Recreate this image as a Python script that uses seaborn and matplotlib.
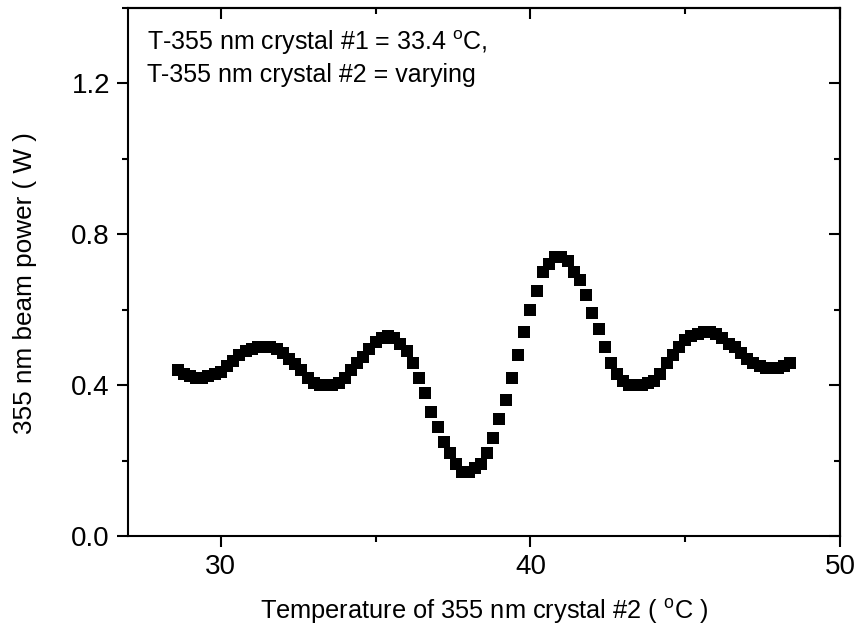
import matplotlib
matplotlib.use("Agg")
import matplotlib.pyplot as plt
from matplotlib.ticker import MultipleLocator
import seaborn as sns
import pandas as pd

temperature = [28.6, 28.8, 29.0, 29.2, 29.4, 29.6, 29.8, 30.0, 30.2, 30.4,
               30.6, 30.8, 31.0, 31.2, 31.4, 31.6, 31.8, 32.0, 32.2, 32.4,
               32.6, 32.8, 33.0, 33.2, 33.4, 33.6, 33.8, 34.0, 34.2, 34.4,
               34.6, 34.8, 35.0, 35.2, 35.4, 35.6, 35.8, 36.0, 36.2, 36.4,
               36.6, 36.8, 37.0, 37.2, 37.4, 37.6, 37.8, 38.0, 38.2, 38.4,
               38.6, 38.8, 39.0, 39.2, 39.4, 39.6, 39.8, 40.0, 40.2, 40.4,
               40.6, 40.8, 41.0, 41.2, 41.4, 41.6, 41.8, 42.0, 42.2, 42.4,
               42.6, 42.8, 43.0, 43.2, 43.4, 43.6, 43.8, 44.0, 44.2, 44.4,
               44.6, 44.8, 45.0, 45.2, 45.4, 45.6, 45.8, 46.0, 46.2, 46.4,
               46.6, 46.8, 47.0, 47.2, 47.4, 47.6, 47.8, 48.0, 48.2, 48.4]

power = [0.44, 0.43, 0.425, 0.42, 0.42, 0.425, 0.43, 0.435, 0.45, 0.465,
         0.48, 0.49, 0.495, 0.50, 0.50, 0.50, 0.495, 0.485, 0.47, 0.455,
         0.44, 0.42, 0.405, 0.40, 0.40, 0.40, 0.405, 0.42, 0.44, 0.46,
         0.475, 0.495, 0.515, 0.525, 0.53, 0.525, 0.51, 0.49, 0.46, 0.42,
         0.38, 0.33, 0.29, 0.25, 0.22, 0.19, 0.17, 0.17, 0.18, 0.19,
         0.22, 0.26, 0.31, 0.36, 0.42, 0.48, 0.54, 0.60, 0.65, 0.70,
         0.72, 0.74, 0.74, 0.73, 0.70, 0.68, 0.64, 0.59, 0.55, 0.50,
         0.46, 0.43, 0.41, 0.40, 0.40, 0.40, 0.405, 0.41, 0.43, 0.46,
         0.48, 0.50, 0.52, 0.53, 0.535, 0.54, 0.54, 0.535, 0.525, 0.51,
         0.50, 0.485, 0.47, 0.46, 0.45, 0.445, 0.445, 0.445, 0.45, 0.46]

x_ticks = [30, 40, 50]
y_ticks = [0.0, 0.4, 0.8, 1.2]
x_label = "Temperature of 355 nm crystal #2 ( $^{\\mathrm{o}}$C )"
y_label = "355 nm beam power ( W )"
note_line1 = "T-355 nm crystal #1 = 33.4 $^{\\mathrm{o}}$C,"
note_line2 = "T-355 nm crystal #2 = varying"

sns.set_style("white")
plt.rcParams["font.family"] = ["Liberation Sans", "DejaVu Sans"]
plt.rcParams["mathtext.fontset"] = "custom"
plt.rcParams["mathtext.rm"] = "Liberation Sans"
plt.rcParams["mathtext.it"] = "Liberation Sans:italic"
plt.rcParams["text.color"] = "black"
plt.rcParams["axes.labelcolor"] = "black"
plt.rcParams["xtick.color"] = "black"
plt.rcParams["ytick.color"] = "black"

df = pd.DataFrame({"T": temperature, "P": power})

fig = plt.figure(figsize=(8.58, 6.36), dpi=100)
ax = fig.add_axes([128 / 858, 100 / 636, 712 / 858, 528 / 636])

sns.scatterplot(data=df, x="T", y="P", marker="s", s=64, color="black",
                linewidth=0, ax=ax, legend=False)

ax.set_xlim(27, 50)
ax.set_ylim(0, 1.4)
ax.set_xticks(x_ticks)
ax.set_yticks(y_ticks)
ax.set_xticklabels([str(v) for v in x_ticks])
ax.set_yticklabels([f"{v:.1f}" for v in y_ticks])
ax.xaxis.set_minor_locator(MultipleLocator(5))
ax.yaxis.set_minor_locator(MultipleLocator(0.2))

for s in ax.spines.values():
    s.set_visible(True)
    s.set_linewidth(1.5)
    s.set_color("black")

ax.tick_params(axis="both", which="major", direction="out", length=8,
               width=1.5, labelsize=20, pad=5, colors="black",
               bottom=True, left=True, top=False, right=False)
ax.tick_params(axis="both", which="minor", direction="out", length=4.5,
               width=1.5, colors="black",
               bottom=True, left=True, top=False, right=False)

# inward ticks on top and right
axt = ax.secondary_xaxis("top")
axt.set_xticks(x_ticks)
axt.xaxis.set_minor_locator(MultipleLocator(5))
axt.tick_params(which="major", direction="in", length=8, width=1.5,
                labeltop=False, top=True, colors="black")
axt.tick_params(which="minor", direction="in", length=4.5, width=1.5,
                top=True, colors="black")
axt.set_xticklabels([])
axr = ax.secondary_yaxis("right")
axr.set_yticks(y_ticks)
axr.yaxis.set_minor_locator(MultipleLocator(0.2))
axr.tick_params(which="major", direction="in", length=8, width=1.5,
                labelright=False, right=True, colors="black")
axr.tick_params(which="minor", direction="in", length=4.5, width=1.5,
                right=True, colors="black")
axr.set_yticklabels([])
for sa in (axt, axr):
    for s in sa.spines.values():
        s.set_linewidth(1.5)
        s.set_color("black")

ax.set_xlabel(x_label, fontsize=18.3, labelpad=12, color="black")
ax.set_ylabel(y_label, fontsize=18.8, color="black")
ax.yaxis.set_label_coords(-0.128, 0.479)

ax.text(0.026, 0.920, note_line1, transform=ax.transAxes, fontsize=18,
        va="baseline", ha="left", color="black")
ax.text(0.026, 0.860, note_line2, transform=ax.transAxes, fontsize=18,
        va="baseline", ha="left", color="black")

fig.savefig("out.png", dpi=100)
